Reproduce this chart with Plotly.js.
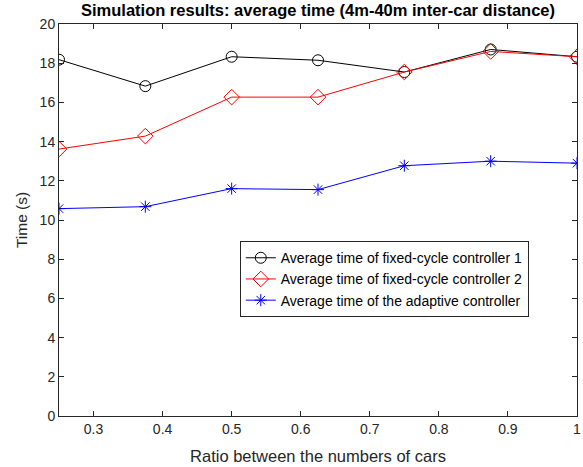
<!DOCTYPE html>
<html>
<head>
<meta charset="utf-8">
<script src="https://cdn.plot.ly/plotly-3.0.1.min.js"></script>
<style>html,body{margin:0;padding:0;background:#fff;overflow:hidden;}#chart{width:583px;height:467px;}</style>
</head>
<body>
<div id="chart"></div>
<script>
const ratios = [0.25, 0.375, 0.5, 0.625, 0.75, 0.875, 1.0];
const fixed1 = [18.18, 16.83, 18.33, 18.15, 17.55, 18.7, 18.33];
const fixed2 = [13.62, 14.28, 16.27, 16.27, 17.55, 18.6, 18.33];
const adaptive = [10.58, 10.68, 11.6, 11.55, 12.77, 13.0, 12.9];
const seriesNames = [
  'Average time of fixed-cycle controller 1',
  'Average time of fixed-cycle controller 2',
  'Average time of the adaptive controller'
];
const xTicks = [0.3, 0.4, 0.5, 0.6, 0.7, 0.8, 0.9, 1];
const xTickText = ['0.3', '0.4', '0.5', '0.6', '0.7', '0.8', '0.9', '1'];
const yTicks = [0, 2, 4, 6, 8, 10, 12, 14, 16, 18, 20];

const axisColor = '#262626';
const traces = [
  {x: ratios, y: fixed1, name: seriesNames[0], mode: 'lines+markers',
   line: {color: '#000000', width: 1},
   marker: {symbol: 'circle-open', size: 11, color: '#000000', line: {width: 1, color: '#000000'}}},
  {x: ratios, y: fixed2, name: seriesNames[1], mode: 'lines+markers',
   line: {color: '#ff0000', width: 1},
   marker: {symbol: 'diamond-open', size: 12, color: '#ff0000', line: {width: 1, color: '#ff0000'}}},
  {x: ratios, y: adaptive, name: seriesNames[2], mode: 'lines+markers',
   line: {color: '#0000ff', width: 1},
   marker: {symbol: 'asterisk-open', size: 10, color: '#0000ff', line: {width: 1, color: '#0000ff'}}}
];

const layout = {
  width: 583, height: 467,
  margin: {l: 59, r: 6, t: 24, b: 51},
  paper_bgcolor: '#ffffff', plot_bgcolor: '#ffffff',
  font: {family: 'Liberation Sans, Arial, sans-serif', color: axisColor, size: 14},
  title: {text: '<b>Simulation results: average time (4m-40m inter-car distance)</b>',
          font: {size: 16.5, color: '#000000'}, x: 0.5, xref: 'paper', xanchor: 'center',
          y: 1, yref: 'container', yanchor: 'top', pad: {t: 4}},
  xaxis: {range: [0.25, 1], tickvals: xTicks, ticktext: xTickText, ticks: 'inside', ticklen: 5,
          tickcolor: axisColor, showline: true, linecolor: axisColor, linewidth: 1, mirror: 'ticks',
          showgrid: false, zeroline: false, tickfont: {size: 14, color: axisColor},
          ticklabeloverflow: 'allow',
          title: {text: 'Ratio between the numbers of cars', font: {size: 16.5, color: axisColor}, standoff: 14}},
  yaxis: {range: [0, 20], tickvals: yTicks, ticks: 'inside', ticklen: 5,
          tickcolor: axisColor, showline: true, linecolor: axisColor, linewidth: 1, mirror: 'ticks',
          showgrid: false, zeroline: false, tickfont: {size: 14, color: axisColor},
          title: {text: 'Time (s)', font: {size: 15.5, color: axisColor}, standoff: 8}},
  showlegend: true,
  legend: {x: 0.349, y: 0.446, xanchor: 'left', yanchor: 'top', bgcolor: '#ffffff',
           bordercolor: axisColor, borderwidth: 1, font: {size: 14, color: '#000000'},
           tracegroupgap: 0, itemwidth: 30}
};

Plotly.newPlot('chart', traces, layout, {displayModeBar: false, staticPlot: true});
</script>
</body>
</html>
